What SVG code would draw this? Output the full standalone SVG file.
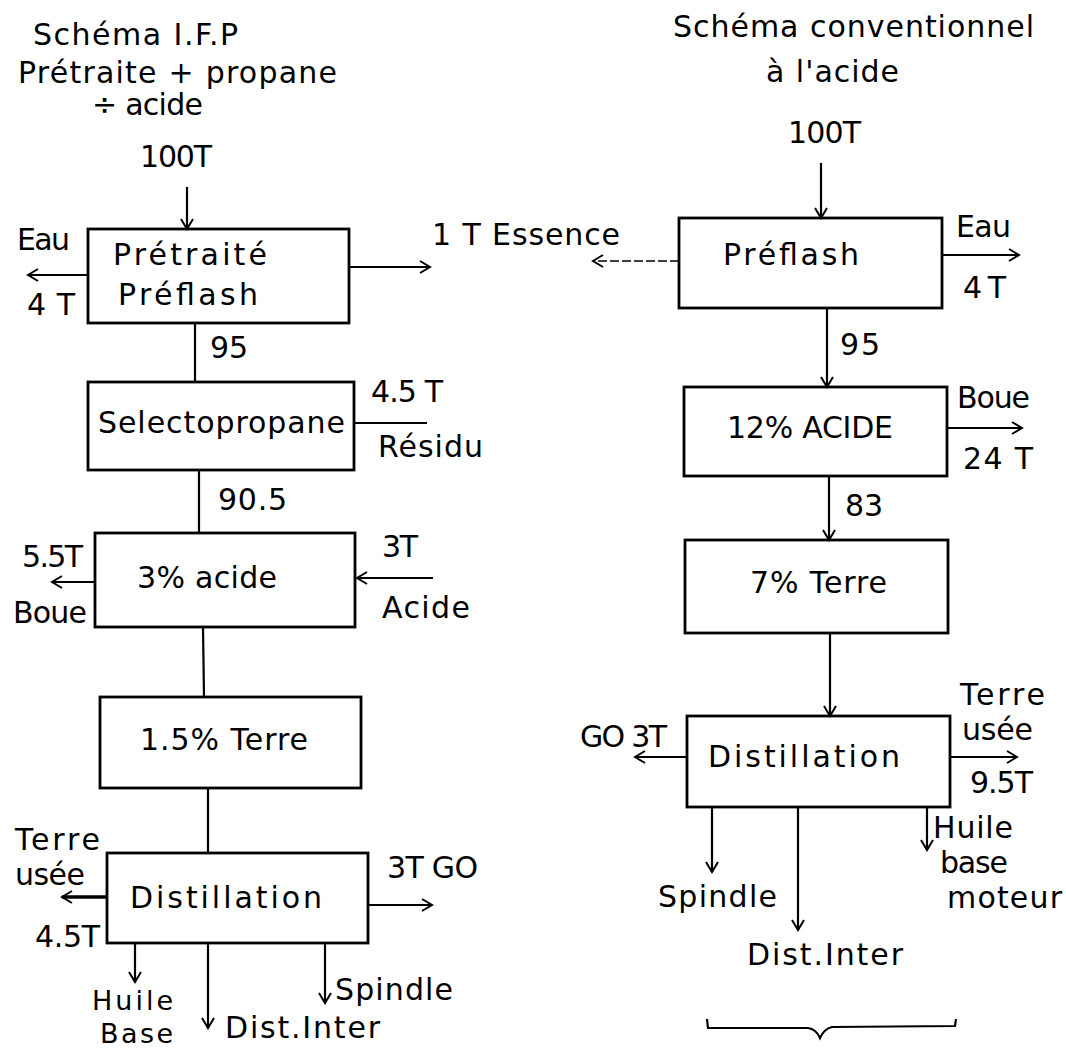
<svg xmlns="http://www.w3.org/2000/svg" width="1066" height="1051" viewBox="0 0 1066 1051">
<style>
.box{fill:none;stroke:#000;stroke-width:2.8}
.ln{fill:none;stroke:#000;stroke-width:2.2}
.ar{marker-end:url(#ah)}
.dash{stroke-width:1.5;stroke-dasharray:9 3}
.thick{stroke-width:3.5}
text{font-family:"DejaVu Sans","Liberation Sans",sans-serif;font-size:30px;fill:#000}
.sm{font-size:27px}
</style>
<defs>
<marker id="ah" markerWidth="14" markerHeight="14" refX="12" refY="7" orient="auto" markerUnits="userSpaceOnUse">
<path d="M2,1 L12,7 L2,13" fill="none" stroke="#000" stroke-width="2"/>
</marker>
</defs>
<rect width="1066" height="1051" fill="#fff"/>

<g id="titles">
<text x="33" y="45" textLength="205" lengthAdjust="spacing">Schéma I.F.P</text>
<text x="18" y="83" textLength="319" lengthAdjust="spacing">Prétraite + propane</text>
<text x="92" y="115" textLength="111" lengthAdjust="spacing">÷ acide</text>
<text x="673" y="37" textLength="361" lengthAdjust="spacing">Schéma conventionnel</text>
<text x="766" y="82" textLength="133" lengthAdjust="spacing">à l'acide</text>
</g>

<g id="left-pretraite">
<rect class="box" x="88" y="229" width="261" height="94"/>
<text x="113" y="265" textLength="154" lengthAdjust="spacing">Prétraité</text>
<text x="118" y="305" textLength="140" lengthAdjust="spacing">Préflash</text>
</g>
<g id="left-selectopropane">
<rect class="box" x="88" y="382" width="266" height="88"/>
<text x="98" y="433" textLength="247" lengthAdjust="spacing">Selectopropane</text>
</g>
<g id="left-acide">
<rect class="box" x="95" y="533" width="260" height="94"/>
<text x="137" y="588" textLength="140" lengthAdjust="spacing">3% acide</text>
</g>
<g id="left-terre">
<rect class="box" x="100" y="697" width="261" height="91"/>
<text x="140" y="750" textLength="168" lengthAdjust="spacing">1.5% Terre</text>
</g>
<g id="left-distillation">
<rect class="box" x="107" y="853" width="261" height="90"/>
<text x="130" y="908" textLength="192" lengthAdjust="spacing">Distillation</text>
</g>

<g id="right-preflash">
<rect class="box" x="679" y="218" width="263" height="90"/>
<text x="723" y="265" textLength="136" lengthAdjust="spacing">Préflash</text>
</g>
<g id="right-acide">
<rect class="box" x="684" y="387" width="263" height="89"/>
<text x="727" y="438" textLength="166" lengthAdjust="spacing">12% ACIDE</text>
</g>
<g id="right-terre">
<rect class="box" x="685" y="540" width="263" height="93"/>
<text x="750" y="593" textLength="137" lengthAdjust="spacing">7% Terre</text>
</g>
<g id="right-distillation">
<rect class="box" x="687" y="716" width="263" height="91"/>
<text x="708" y="767" textLength="192" lengthAdjust="spacing">Distillation</text>
</g>

<g id="connectors" class="ln">
<line class="ar" x1="187" y1="187" x2="187" y2="229"/>
<line class="ar" x1="88" y1="275" x2="28" y2="275"/>
<line class="ar" x1="349" y1="267" x2="430" y2="267"/>
<line x1="195" y1="323" x2="195" y2="382"/>
<line x1="354" y1="423" x2="427" y2="423"/>
<line x1="199" y1="470" x2="199" y2="533"/>
<line class="ar" x1="95" y1="582" x2="52" y2="582"/>
<line class="ar" x1="433" y1="578" x2="357" y2="578"/>
<line x1="203" y1="627" x2="204" y2="697"/>
<line x1="208" y1="788" x2="208" y2="853"/>
<line class="ar thick" x1="107" y1="897" x2="62" y2="897"/>
<line class="ar" x1="368" y1="905" x2="432" y2="905"/>
<line class="ar" x1="135" y1="943" x2="135" y2="982"/>
<line class="ar" x1="208" y1="943" x2="208" y2="1028"/>
<line class="ar" x1="325" y1="943" x2="325" y2="1003"/>

<line class="ar" x1="821" y1="163" x2="821" y2="218"/>
<line class="ar dash" x1="679" y1="261" x2="593" y2="261"/>
<line class="ar" x1="942" y1="255" x2="1019" y2="255"/>
<line class="ar" x1="827" y1="308" x2="827" y2="387"/>
<line class="ar" x1="947" y1="428" x2="1022" y2="428"/>
<line class="ar" x1="829" y1="476" x2="829" y2="540"/>
<line class="ar" x1="830" y1="633" x2="830" y2="716"/>
<line class="ar" x1="687" y1="757" x2="635" y2="757"/>
<line class="ar" x1="950" y1="757" x2="1017" y2="757"/>
<line class="ar" x1="712" y1="807" x2="712" y2="872"/>
<line class="ar" x1="798" y1="807" x2="798" y2="930"/>
<line class="ar" x1="927" y1="807" x2="927" y2="850"/>
<path d="M707,1019 L708,1028 L808,1028 Q816,1029 820,1038 Q824,1029 832,1027 L955,1026 L956,1019"/>
</g>

<g id="labels">
<text x="140" y="167" textLength="72" lengthAdjust="spacing">100T</text>
<text x="17" y="250" textLength="53" lengthAdjust="spacing">Eau</text>
<text x="27" y="315" textLength="48" lengthAdjust="spacing">4 T</text>
<text x="432" y="245" textLength="188" lengthAdjust="spacing">1 T Essence</text>
<text x="210" y="358" textLength="38" lengthAdjust="spacing">95</text>
<text x="371" y="402" textLength="72" lengthAdjust="spacing">4.5 T</text>
<text x="378" y="457" textLength="105" lengthAdjust="spacing">Résidu</text>
<text x="218" y="510" textLength="69" lengthAdjust="spacing">90.5</text>
<text x="22" y="567" textLength="61" lengthAdjust="spacing">5.5T</text>
<text x="13" y="623" textLength="74" lengthAdjust="spacing">Boue</text>
<text x="382" y="557" textLength="36" lengthAdjust="spacing">3T</text>
<text x="382" y="618" textLength="88" lengthAdjust="spacing">Acide</text>
<text x="15" y="850" textLength="85" lengthAdjust="spacing">Terre</text>
<text x="15" y="885" textLength="70" lengthAdjust="spacing">usée</text>
<text x="35" y="947" textLength="65" lengthAdjust="spacing">4.5T</text>
<text x="387" y="878" textLength="91" lengthAdjust="spacing">3T GO</text>
<text class="sm" x="92" y="1010" textLength="81" lengthAdjust="spacing">Huile</text>
<text class="sm" x="100" y="1043" textLength="73" lengthAdjust="spacing">Base</text>
<text x="225" y="1038" textLength="155" lengthAdjust="spacing">Dist.Inter</text>
<text x="335" y="1000" textLength="118" lengthAdjust="spacing">Spindle</text>

<text x="788" y="143" textLength="73" lengthAdjust="spacing">100T</text>
<text x="956" y="237" textLength="55" lengthAdjust="spacing">Eau</text>
<text x="963" y="298" textLength="43" lengthAdjust="spacing">4 T</text>
<text x="840" y="355" textLength="40" lengthAdjust="spacing">95</text>
<text x="957" y="408" textLength="73" lengthAdjust="spacing">Boue</text>
<text x="963" y="469" textLength="70" lengthAdjust="spacing">24 T</text>
<text x="845" y="516" textLength="38" lengthAdjust="spacing">83</text>
<text x="580" y="747" textLength="87" lengthAdjust="spacing">GO 3T</text>
<text x="960" y="705" textLength="85" lengthAdjust="spacing">Terre</text>
<text x="962" y="740" textLength="71" lengthAdjust="spacing">usée</text>
<text x="970" y="793" textLength="63" lengthAdjust="spacing">9.5T</text>
<text x="658" y="907" textLength="119" lengthAdjust="spacing">Spindle</text>
<text x="747" y="965" textLength="156" lengthAdjust="spacing">Dist.Inter</text>
<text x="933" y="838" textLength="80" lengthAdjust="spacing">Huile</text>
<text x="940" y="873" textLength="68" lengthAdjust="spacing">base</text>
<text x="947" y="908" textLength="115" lengthAdjust="spacing">moteur</text>
</g>
</svg>
